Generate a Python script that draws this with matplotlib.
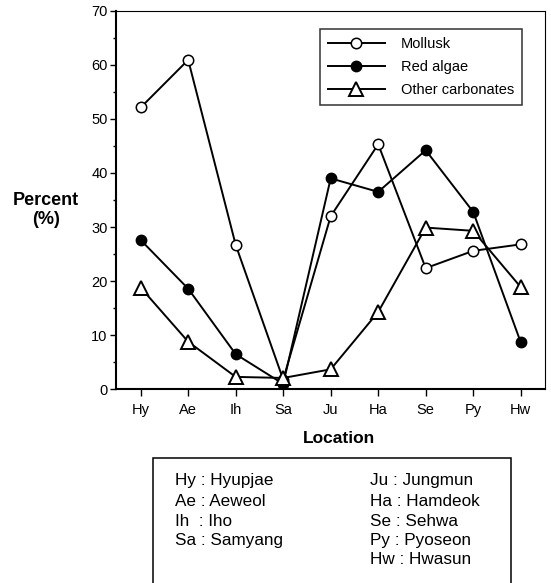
import matplotlib
matplotlib.use("Agg")
import matplotlib.pyplot as plt
from matplotlib.ticker import MultipleLocator
from matplotlib.patches import Rectangle

plt.rcParams['font.family'] = ['Liberation Sans', 'DejaVu Sans']

locations = ["Hy", "Ae", "Ih", "Sa", "Ju", "Ha", "Se", "Py", "Hw"]
mollusk = [52.1, 60.9, 26.7, 1.8, 32.0, 45.3, 22.4, 25.6, 26.8]
red_algae = [27.6, 18.6, 6.5, 1.0, 39.0, 36.5, 44.2, 32.8, 8.7]
other_carbonates = [18.8, 8.8, 2.3, 2.1, 3.7, 14.3, 29.9, 29.3, 18.9]
series_names = ["Mollusk", "Red algae", "Other carbonates"]
left_key = ["Hy : Hyupjae", "Ae : Aeweol", "Ih  : Iho", "Sa : Samyang"]
right_key = ["Ju : Jungmun", "Ha : Hamdeok", "Se : Sehwa", "Py : Pyoseon", "Hw : Hwasun"]

fig = plt.figure(figsize=(5.51, 5.83), dpi=100)
ax = fig.add_axes([0.2105, 0.3322, 0.7785, 0.6495])
x = list(range(len(locations)))

ax.plot(x, mollusk, color='black', lw=1.4, marker='o', ms=7.5, mfc='white', mec='black', mew=1.1, label=series_names[0])
ax.plot(x, red_algae, color='black', lw=1.4, marker='o', ms=7.5, mfc='black', mec='black', label=series_names[1])
ax.plot(x, other_carbonates, color='black', lw=1.4, marker='^', ms=9.5, mfc='white', mec='black', mew=1.4, label=series_names[2])

ax.set_xlim(-0.52, 8.51)
ax.set_ylim(0, 70)
ax.set_xticks(x)
ax.set_xticklabels(locations, fontsize=10.5)
ax.yaxis.set_major_locator(MultipleLocator(10))
ax.yaxis.set_minor_locator(MultipleLocator(5))
ax.tick_params(axis='y', which='major', direction='out', length=4, width=1.0, labelsize=10.5, pad=2)
ax.tick_params(axis='y', which='minor', direction='out', length=2, width=1.0)
ax.tick_params(axis='x', which='major', direction='out', length=5, width=1.0, pad=5)
for s in ['left', 'bottom']:
    ax.spines[s].set_linewidth(1.5)
for s in ['top', 'right']:
    ax.spines[s].set_linewidth(0.8)

leg = ax.legend(loc='upper left', bbox_to_anchor=(320/551, 1 - 29.3/583), bbox_transform=fig.transFigure,
                fontsize=10.5, frameon=True,
                fancybox=False, edgecolor='black', handlelength=3.9, handletextpad=1.1,
                borderpad=0.55, labelspacing=0.62, borderaxespad=0)
leg.get_frame().set_linewidth(1.1)

fig.text(0.083, 0.64, "Percent\n(%)", ha='center', va='center', fontsize=13, fontweight='bold', linespacing=1.15)
fig.text(0.615, 0.2487, "Location", ha='center', va='center', fontsize=12.5, fontweight='bold')

# key box
box = Rectangle((152.7/551, -0.05), (511-152.7)/551, (0.05 + 1 - 458.3/583), transform=fig.transFigure,
                fill=False, edgecolor='black', lw=1.1)
fig.patches.append(box)
ys = [481, 501, 521, 540, 560]
for i, t in enumerate(left_key):
    fig.text(175/551, 1 - ys[i]/583, t, ha='left', va='center', fontsize=12.3)
for i, t in enumerate(right_key):
    fig.text(370/551, 1 - ys[i]/583, t, ha='left', va='center', fontsize=12.3)

fig.savefig("out.png", dpi=100)
